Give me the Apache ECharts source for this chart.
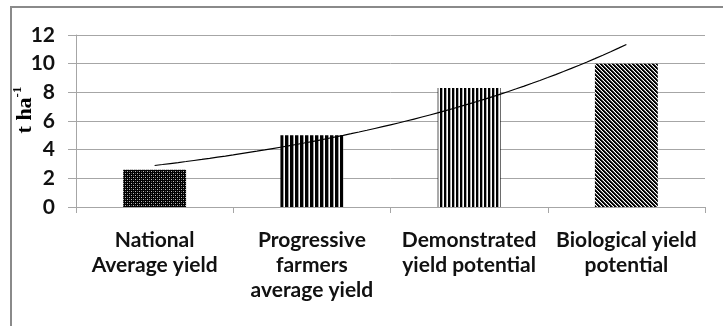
<!DOCTYPE html>
<html>
<head>
<meta charset="utf-8">
<script src="https://cdn.jsdelivr.net/npm/echarts@6/dist/echarts.min.js"></script>
<style>
  html, body { margin: 0; padding: 0; background: #fff; }
  #chart { width: 723px; height: 326px; }
</style>
</head>
<body>
<div id="chart"></div>
<script>
// Yield levels (t/ha)
const categories = [
  'National\nAverage yield',
  'Progressive\nfarmers\naverage yield',
  'Demonstrated\nyield potential',
  'Biological yield\npotential'
];
const yieldValues = [2.6, 5.0, 8.3, 10.0];
const yTicks = [0, 2, 4, 6, 8, 10, 12];
const unitLabel = '{base|t ha}{sup|-1}';

// Small canvas tiles used as monochrome fill patterns
function tile(w, h, paint) {
  const c = document.createElement('canvas');
  c.width = w; c.height = h;
  const ctx = c.getContext('2d');
  paint(ctx);
  return { image: c, repeat: 'repeat' };
}
function px(ctx, x, y, col) { ctx.fillStyle = col; ctx.fillRect(x, y, 1, 1); }

const dotted = tile(4, 4, ctx => {
  ctx.fillStyle = '#000'; ctx.fillRect(0, 0, 4, 4);
  px(ctx, 1, 1, '#bbb'); px(ctx, 3, 3, '#bbb');
  px(ctx, 3, 1, '#555'); px(ctx, 1, 3, '#555');
});
const wideStripes = tile(5, 1, ctx => {
  ctx.fillStyle = '#000'; ctx.fillRect(0, 0, 5, 1);
  px(ctx, 3, 0, '#999'); px(ctx, 4, 0, '#fff');
});
const fineStripes = tile(4, 1, ctx => {
  ctx.fillStyle = '#000'; ctx.fillRect(0, 0, 4, 1);
  px(ctx, 2, 0, '#aaa'); px(ctx, 3, 0, '#fff');
});
const diagonal = tile(4, 4, ctx => {
  ctx.fillStyle = '#fff'; ctx.fillRect(0, 0, 4, 4);
  for (let y = 0; y < 4; y++) {
    for (let x = 0; x < 4; x++) {
      const d = ((x - y) % 4 + 4) % 4;
      if (d === 0 || d === 1) px(ctx, x, y, '#000');
      else if (d === 2) px(ctx, x, y, '#666');
    }
  }
});
const fills = [dotted, wideStripes, fineStripes, diagonal];

// Exponential trendline y = a * e^(b x) fitted to the bar values (x = 1..n)
const n = yieldValues.length;
const xs = yieldValues.map((_, i) => i + 1);
const ls = yieldValues.map(v => Math.log(v));
const mx = xs.reduce((s, v) => s + v, 0) / n;
const my = ls.reduce((s, v) => s + v, 0) / n;
let sxy = 0, sxx = 0;
for (let i = 0; i < n; i++) { sxy += (xs[i] - mx) * (ls[i] - my); sxx += (xs[i] - mx) ** 2; }
const b = sxy / sxx;
const a = Math.exp(my - b * mx);
const trend = [];
for (let k = 0; k <= 60; k++) {
  const x = 1 + (n - 1) * k / 60;
  trend.push([x - 0.5, a * Math.exp(b * x)]);
}

const chart = echarts.init(document.getElementById('chart'), null, { renderer: 'canvas' });
chart.setOption({
  backgroundColor: '#fff',
  animation: false,
  graphic: [{
    type: 'rect',
    shape: { x: 11, y: 7, width: 760, height: 360 },
    style: { fill: 'none', stroke: '#8a8a8a', lineWidth: 2 },
    silent: true
  }, {
    // vertical unit title of the value axis
    type: 'text',
    x: 25, y: 110,
    rotation: Math.PI / 2,
    silent: true,
    style: {
      text: unitLabel,
      align: 'center',
      verticalAlign: 'middle',
      rich: {
        base: { fontFamily: 'Liberation Serif', fontWeight: 'bold', fontSize: 22, fill: '#000', lineHeight: 28 },
        sup: { fontFamily: 'Liberation Serif', fontWeight: 'bold', fontSize: 13, fill: '#000', verticalAlign: 'top', lineHeight: 28 }
      }
    }
  }],
  grid: { left: 76, right: 18, top: 35, bottom: 119, outerBoundsMode: 'none', containLabel: false },
  xAxis: [{
    type: 'category',
    data: categories,
    axisLine: { lineStyle: { color: '#a6a6a6', width: 1 } },
    axisTick: { show: true, length: 6, lineStyle: { color: '#a6a6a6' } },
    axisLabel: {
      color: '#111', fontFamily: 'Lato', fontWeight: 'bold', fontSize: 21,
      lineHeight: 25, margin: 21, interval: 0
    }
  }, {
    type: 'value', min: 0, max: n, show: false
  }],
  yAxis: {
    type: 'value',
    min: yTicks[0], max: yTicks[yTicks.length - 1], interval: yTicks[1] - yTicks[0],
    axisLine: { show: true, lineStyle: { color: '#a6a6a6', width: 1 } },
    axisTick: { show: true, length: 8, lineStyle: { color: '#a6a6a6' } },
    axisLabel: {
      color: '#111', fontFamily: 'Lato', fontWeight: 'bold', fontSize: 21, margin: 21
    },
    splitLine: { lineStyle: { color: '#a6a6a6', width: 1 } }
  },
  series: [{
    type: 'bar',
    data: yieldValues.map((v, i) => ({ value: v, itemStyle: { color: fills[i] } })),
    barWidth: '40%'
  }, {
    type: 'line',
    xAxisIndex: 1,
    data: trend,
    showSymbol: false,
    lineStyle: { color: '#000', width: 1.2 },
    silent: true
  }]
});
</script>
</body>
</html>
